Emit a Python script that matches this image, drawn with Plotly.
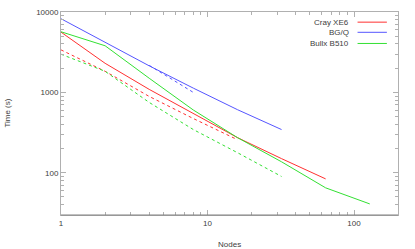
import plotly.graph_objects as go

cray_nodes = [1, 2, 4, 8, 16, 32, 64]
cray_time = [5620, 2300, 1090, 546, 274, 150, 84]
cray_alt_nodes = [1, 2, 4, 8, 16]
cray_alt_time = [3380, 1830, 891, 473, 258]

bgq_nodes = [1, 2, 4, 8, 16, 32]
bgq_time = [8250, 4200, 2140, 1130, 610, 345]
bgq_alt_nodes = [4, 8]
bgq_alt_time = [2170, 1000]

bullx_nodes = [1, 2, 4, 8, 16, 32, 64, 128]
bullx_time = [5680, 3800, 1500, 604, 274, 137, 65, 41]
bullx_alt_nodes = [1, 2, 4, 8, 16, 32]
bullx_alt_time = [2985, 1830, 750, 345, 178, 90]

series_names = ["Cray XE6", "BG/Q", "Bullx B510"]
colors = ["#ff3030", "#5555ff", "#33e033"]

x_ticks = [1, 10, 100]
x_tick_labels = ["1", "10", "100"]
x_minor = [2, 3, 4, 5, 6, 7, 8, 9, 20, 30, 40, 50, 60, 70, 80, 90, 200]
y_ticks = [100, 1000, 10000]
y_tick_labels = ["100", "1000", "10000"]
y_minor = [30, 40, 50, 60, 70, 80, 90, 200, 300, 400, 500, 600, 700, 800, 900,
           2000, 3000, 4000, 5000, 6000, 7000, 8000, 9000]

fig = go.Figure()
sol = [(cray_nodes, cray_time), (bgq_nodes, bgq_time), (bullx_nodes, bullx_time)]
alt = [(cray_alt_nodes, cray_alt_time), (bgq_alt_nodes, bgq_alt_time), (bullx_alt_nodes, bullx_alt_time)]
for (xs, ys), name, c in zip(sol, series_names, colors):
    fig.add_trace(go.Scatter(x=xs, y=ys, mode="lines", name=name,
                             line=dict(color=c, width=1), showlegend=False))
for (xs, ys), name, c in zip(alt, series_names, colors):
    fig.add_trace(go.Scatter(x=xs, y=ys, mode="lines", name=name + " (alt)",
                             line=dict(color=c, width=1, dash="3px,3px"), showlegend=False))

font = dict(family="Liberation Sans, Arial, sans-serif", size=8, color="#404040")
axis_common = dict(
    type="log", showgrid=False, zeroline=False, showline=True, linecolor="#b0b0b0",
    linewidth=1, mirror="allticks", ticks="inside", ticklen=5, tickcolor="#b0b0b0",
    tickfont=font, automargin=False,
)
fig.update_layout(
    width=415, height=249,
    margin=dict(l=61, r=17, t=12, b=34, autoexpand=False),
    paper_bgcolor="white", plot_bgcolor="white",
    font=font,
    showlegend=False,
    xaxis=dict(axis_common, range=[0, 2.3], tickvals=x_ticks, ticktext=x_tick_labels,
               minor=dict(ticks="inside", ticklen=3, tickcolor="#b0b0b0",
                          tickmode="array", tickvals=x_minor, showgrid=False)),
    yaxis=dict(axis_common, range=[1.475, 4.0], tickvals=y_ticks, ticktext=y_tick_labels,
               minor=dict(ticks="inside", ticklen=3, tickcolor="#b0b0b0",
                          tickmode="array", tickvals=y_minor, showgrid=False)),
)
fig.add_shape(type="line", xref="paper", yref="paper", x0=0, x1=1, y0=0, y1=0,
              line=dict(color="#808080", width=1))

# axis titles
fig.add_annotation(xref="paper", yref="paper", x=0.5, y=-0.115, text="Nodes",
                   showarrow=False, xanchor="center", yanchor="top", font=font)
fig.add_annotation(xref="paper", yref="paper", x=-0.16, y=0.5, text="Time (s)",
                   showarrow=False, xanchor="center", yanchor="middle", textangle=-90, font=font)

# legend (text right-aligned, sample line on the right)
leg_y = [0.95, 0.90, 0.845]
for name, c, yy in zip(series_names, colors, leg_y):
    fig.add_annotation(xref="paper", yref="paper", x=0.861, y=yy, text=name,
                       showarrow=False, xanchor="right", yanchor="middle", font=font)
    fig.add_shape(type="line", xref="paper", yref="paper", x0=0.88, x1=0.967, y0=yy, y1=yy,
                  line=dict(color=c, width=1))

fig.write_html("out.html", config={"displayModeBar": False},
               post_script="document.body.style.margin='0';document.body.style.overflow='hidden';")
